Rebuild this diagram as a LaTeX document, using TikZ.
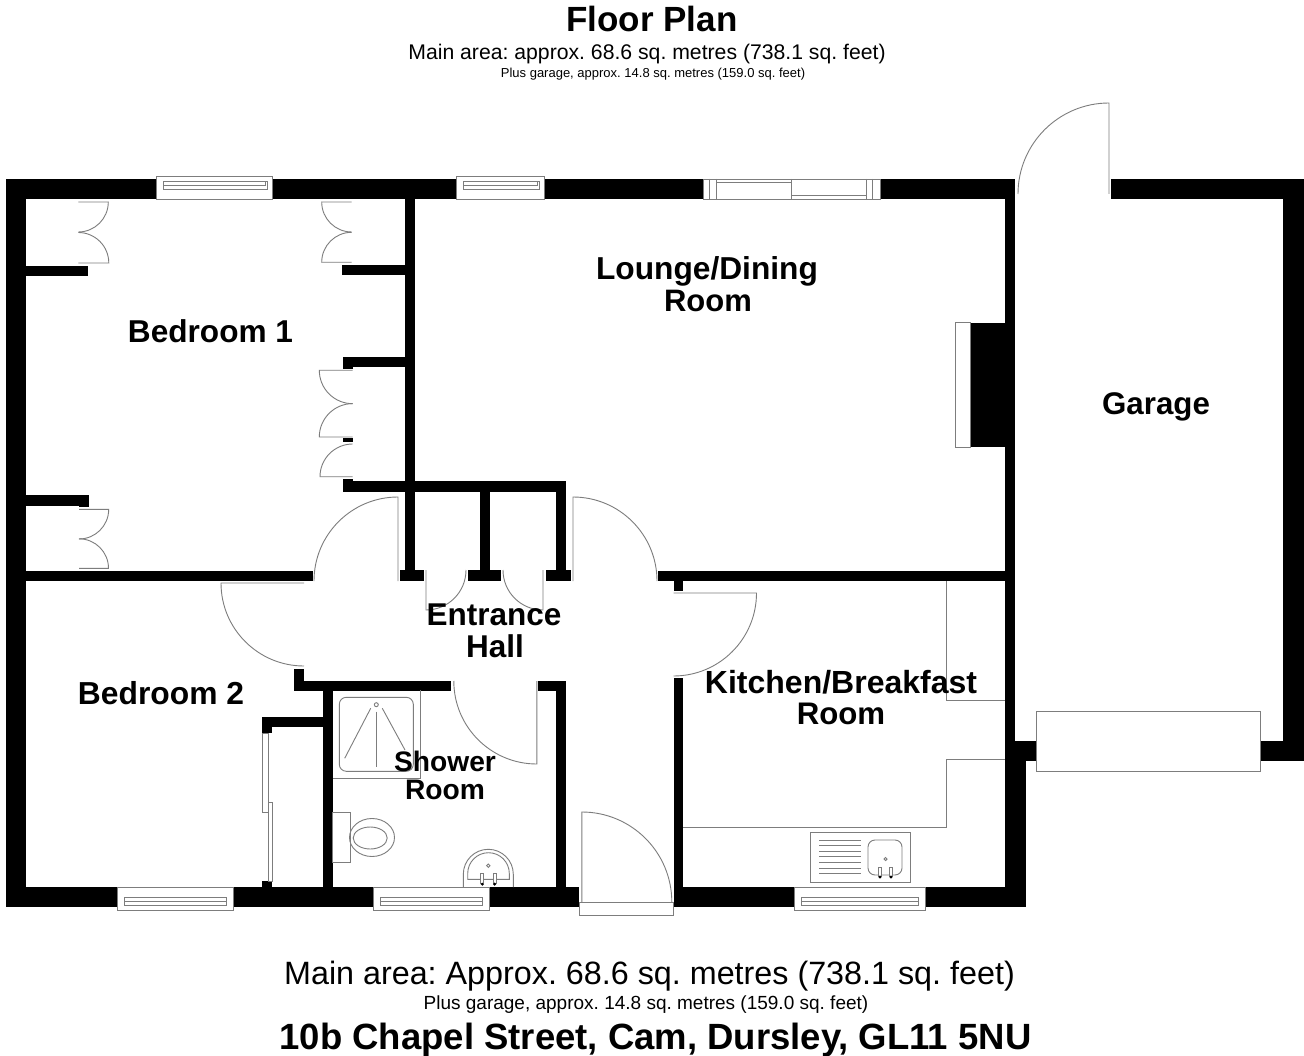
\documentclass[tikz,border=0pt]{standalone}
\usepackage{fontspec}
\setmainfont{Liberation Sans}
\usepackage{xcolor}
\definecolor{lgray}{RGB}{125,125,125}
\frenchspacing

\begin{document}
\begin{tikzpicture}[x=1pt, y=-1pt,
    wall/.style={fill=black},
    fitting/.style={draw=lgray, line width=.9pt},
    label/.style={anchor=base, align=center, font=\bfseries\fontsize{#1}{#1}\selectfont},
    plain/.style={anchor=base, font=\fontsize{#1}{#1}\selectfont}]

    \useasboundingbox (0,0) rectangle (1304,1056);
    \fill[white] (0,0) rectangle (1304,1056);

    \foreach \xa/\ya/\xb/\yb in {6/179/156/199, 272/179/456/199, 544/179/703/199, 880/179/1015/199,
        1111/179/1304/199, 6/179/26/907, 1283/179/1304/761, 1005/199/1015/741,
        1015/741/1037/761, 1260/741/1304/761, 1005/741/1025.5/907,
        6/887/118/907, 233.7/887/373/907, 489/887/579/907, 673.5/887/794.7/907, 925.3/887/1025.5/907,
        26/571/313/581, 405/199/414.6/570, 400/570/424/580.6, 342.5/481/566.4/492, 342.5/479/353/492,
        480/492/490/570, 468/570/501/580.6, 556.4/481/566.4/570, 545.7/570/570.7/580.6,
        658/570.5/1005/581, 673.5/581/683.4/591, 673.5/678/683.4/887,
        294/669/304/681, 294/680.7/451/690.7, 538/680.7/566.4/690.7, 556.4/690/566.4/887, 322.5/690/332.5/887,
        262/717/322.5/727, 262/717/272/733, 262/881/272/887,
        26/265.7/88.3/276.3, 342/265/405/275, 342.7/356.7/405/366.7, 342.7/356.7/352.7/369,
        342.7/438.3/352.7/442.3, 342.7/479/352.7/492, 26/495.3/89/505.7, 79/495.3/89/507.3,
        970/322.7/1005/447.3} {
        \fill[wall] (\xa,\ya) rectangle (\xb,\yb);
    }

    \foreach \hx/\hy/\sa/\ea/\r in {398/581/-90/-180/84, 573/581/-90/0/84, 304/583/180/90/83,
        673.5/593/0/90/83, 536.8/681/90/180/83, 581.8/902/-90/0/90, 1109/194/-90/-180/91,
        426/570/90/0/40, 543/570/90/180/40,
        78.3/202/0/90/30, 78.3/263/0/-90/30.5, 351.7/202/180/90/30, 351.7/262.3/180/270/30,
        352.7/370.3/180/90/33.4, 352.7/437/180/270/33.4, 352.7/476.7/180/270/32.7,
        79/509.3/0/90/29.7, 79/568.3/0/-90/29.5} {
        \draw[fitting] (\hx,\hy) -- ++(\sa:\r) arc[start angle=\sa, end angle=\ea, radius=\r];
    }

    \foreach \xa/\xb in {156/272, 456.7/544} {
        \draw[fitting] (\xa,199) -- (\xa,176) -- (\xb,176) -- (\xb,199) -- cycle;
        \draw[fitting] ({\xa+7},181) rectangle ({\xb-5},189);
        \draw[fitting] ({\xa+7},185) -- ({\xb-7},185) -- ({\xb-7},181);
    }
    \foreach \xa/\xb in {117.7/233.7, 373/489, 794.7/925.3} {
        \draw[fitting] (\xa,887) -- (\xb,887) -- (\xb,910) -- (\xa,910) -- cycle;
        \draw[fitting] ({\xa+7},897) rectangle ({\xb-7},905.5);
        \draw[fitting] ({\xa+7},901) -- ({\xb-7},901);
    }

    \draw[fitting] (703,179) rectangle (880.5,199);
    \draw[fitting] (709,179) -- (709,199) (716,179) -- (716,199) (866.6,179) -- (866.6,199) (872,179) -- (872,199);
    \draw[fitting] (716,182.7) rectangle (791,199);
    \draw[fitting] (791,179) -- (791,199) (791,195.3) -- (866.6,195.3);

    \draw[fitting] (955.7,322.7) rectangle (970,447.3);
    \draw[fitting, fill=white] (1036.6,711.7) rectangle (1260,771);
    \draw[fitting] (579,902) rectangle (673,915);

    \draw[fitting] (683,827.7) -- (946,827.7) -- (946,759.7) -- (1005,759.7);
    \draw[fitting] (946,581) -- (946,700) -- (1005,700);
    \draw[fitting] (810.7,832) rectangle (910,882);
    \foreach \ly in {840,845.6,...,874} {
        \draw[fitting] (819,\ly) -- (861,\ly);
    }
    \draw[fitting, rounded corners=7pt] (868,840) rectangle (902,875);
    \draw[fitting] (885.5,859) circle [radius=1.6];
    \foreach \tx in {880,891} {
        \draw[fitting, fill=white] ({\tx-1.5},867) rectangle ({\tx+1.5},876);
        \fill (\tx,877) circle [radius=1.6];
    }

    \draw[fitting] (420.7,690) -- (420.7,778) -- (332.5,778);
    \draw[fitting, rounded corners=7pt] (339.3,697.3) rectangle (413.3,771.3);
    \draw[fitting] (376.3,704.7) circle [radius=2];
    \draw[fitting] (376.7,711.7) -- (376.7,766.7);
    \draw[fitting] (370.7,708.3) -- (344.7,758.3);
    \draw[fitting] (382.3,708.3) -- (405,750);

    \draw[fitting] (332.5,812.7) rectangle (350.4,862.7);
    \draw[fitting] (372,837.5) ellipse [x radius=22.5, y radius=19];
    \draw[fitting] (370.2,838) ellipse [x radius=17, y radius=11];

    \draw[fitting] (463.3,887) -- (463.3,874.3) arc[start angle=180, end angle=360, radius=25] -- (513.3,887);
    \draw[fitting] (467.7,879.3) -- (467.7,873.5) arc[start angle=180, end angle=360, radius=20.8] -- (509.3,879.3) -- cycle;
    \draw[fitting] (488.3,865.7) circle [radius=1.7];
    \foreach \tx in {482.3,494.6} {
        \draw[fitting, fill=white] ({\tx-1.4},873) rectangle ({\tx+1.4},883);
        \fill (\tx,884.2) circle [radius=1.6];
    }

    \draw[fitting] (262,733) rectangle (268,812);
    \draw[fitting] (268,802) rectangle (272.7,881);

    \node[label=35] (title) at (652,32) {Floor Plan};
    \node[plain=21.2] (mainTop) at (647,60) {Main area: approx. 68.6 sq. metres (738.1 sq. feet)};
    \node[plain=13] (garageTop) at (653,78) {Plus garage, approx. 14.8 sq. metres (159.0 sq. feet)};

    \node[label=31.6] (bedOne) at (210.5,343) {Bedroom 1};
    \node[label=31.7] (lounge) at (707,280) {Lounge/Dining};
    \node[label=31] (loungeB) at (708,312) {Room};
    \node[label=31.3] (garage) at (1156,415) {Garage};
    \node[label=31.5] (entrance) at (494,625) {Entrance};
    \node[label=31.5] (hall) at (495,657) {Hall};
    \node[label=31.8] (bedTwo) at (161,704) {Bedroom 2};
    \node[label=28.2] (shower) at (445,771) {Shower};
    \node[label=28.2] (showerB) at (445,799) {Room};
    \node[label=32] (kitchen) at (841,693) {Kitchen/Breakfast};
    \node[label=31.2] (kitchenB) at (841,724) {Room};

    \node[plain=32.3] (mainBot) at (649.5,984) {Main area: Approx. 68.6 sq. metres (738.1 sq. feet)};
    \node[plain=19] (garageBot) at (646,1009) {Plus garage, approx. 14.8 sq. metres (159.0 sq. feet)};
    \node[label=36.5] (address) at (655.5,1049) {10b Chapel Street, Cam, Dursley, GL11 5NU};

\end{tikzpicture}
\end{document}
